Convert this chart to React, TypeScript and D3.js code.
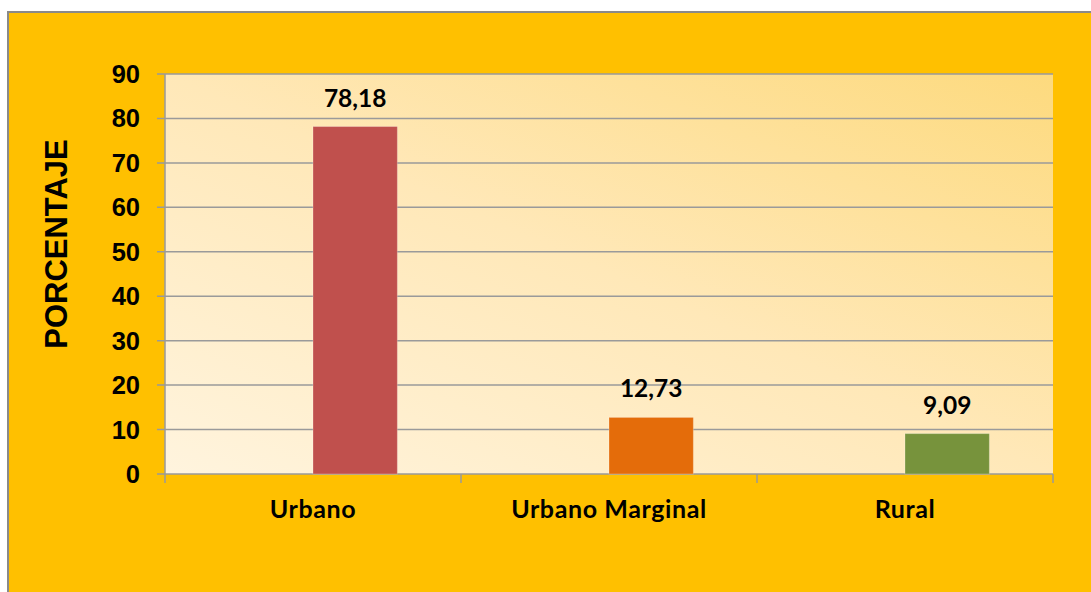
import React from 'react';
import * as d3 from 'd3';

// chart values
const categories = ['Urbano', 'Urbano Marginal', 'Rural'];
const values = [78.18, 12.73, 9.09];
const valueLabels = ['78,18', '12,73', '9,09'];
const barColors = ['#C0504D', '#E46C0A', '#77933C'];
const yTicks = [0, 10, 20, 30, 40, 50, 60, 70, 80, 90];

const W = 1091;
const H = 592;
const margin = { top: 74, right: 38, bottom: 118, left: 165 };

const App = () => {
  const x = d3.scaleBand<string>()
    .domain(categories)
    .range([margin.left, W - margin.right])
    .padding(0);

  const y = d3.scaleLinear()
    .domain([0, 90])
    .range([H - margin.bottom, margin.top]);

  // bar sits in the right half of each category slot (like an empty first series)
  const barW = x.bandwidth() * 0.285;
  const plotW = W - margin.right - margin.left;
  const plotH = y(0) - y(90);
  const labelFont = 'Lato, "Open Sans", sans-serif';
  const axisFont = '"Liberation Sans", Arial, sans-serif';

  return (
    <svg width={W} height={H} style={{ position: 'absolute', left: 0, top: 0 }}>
      <defs>
        <linearGradient id="plotBg" x1="0" y1="1" x2="1" y2="0">
          <stop offset="0%" stopColor="#FFF4DE" />
          <stop offset="50%" stopColor="#FFE8B8" />
          <stop offset="100%" stopColor="#FDDA7E" />
        </linearGradient>
      </defs>

      <rect x={8} y={12} width={W} height={H} fill="#FFC000" stroke="#8a8a8a" strokeWidth={2} />

      <rect x={margin.left} y={y(90)} width={plotW} height={plotH} fill="url(#plotBg)" />

      {/* gridlines and y ticks */}
      {yTicks.map(t => (
        <g key={t}>
          <line x1={margin.left - 8} x2={W - margin.right} y1={y(t)} y2={y(t)} stroke="#9a9a9a" strokeWidth={1.5} />
          <text x={140} y={y(t) + 9} textAnchor="end" fontFamily={axisFont} fontWeight="bold" fontSize={25.5} fill="#000">
            {t}
          </text>
        </g>
      ))}

      {/* y axis line */}
      <line x1={margin.left} x2={margin.left} y1={y(90)} y2={y(0)} stroke="#9a9a9a" strokeWidth={1.5} />

      {/* x category separators */}
      {[...categories.map(c => x(c) as number), W - margin.right].map((v, i) => (
        <line key={i} x1={v} x2={v} y1={y(0)} y2={y(0) + 9} stroke="#9a9a9a" strokeWidth={1.5} />
      ))}

      {/* bars */}
      {categories.map((c, i) => {
        const cx = (x(c) as number) + x.bandwidth() / 2;
        return (
          <g key={c}>
            <rect
              x={cx}
              y={y(values[i])}
              width={barW}
              height={y(0) - y(values[i])}
              fill={barColors[i]}
              stroke="#ffffff"
              strokeOpacity={0.25}
              strokeWidth={1}
            />
            <text x={cx + barW / 2} y={y(values[i]) - 20} textAnchor="middle" fontFamily={labelFont} fontWeight="bold" fontSize={24.5} fill="#000">
              {valueLabels[i]}
            </text>
            <text x={cx} y={518} textAnchor="middle" fontFamily={labelFont} fontWeight="bold" fontSize={25} letterSpacing={0.6} fill="#000">
              {c}
            </text>
          </g>
        );
      })}

      {/* y axis title */}
      <text
        transform={`translate(67, ${244}) rotate(-90)`}
        textAnchor="middle"
        fontFamily={axisFont}
        fontWeight="bold"
        fontSize={31}
        fill="#000"
      >
        PORCENTAJE
      </text>
    </svg>
  );
};

export default App;
